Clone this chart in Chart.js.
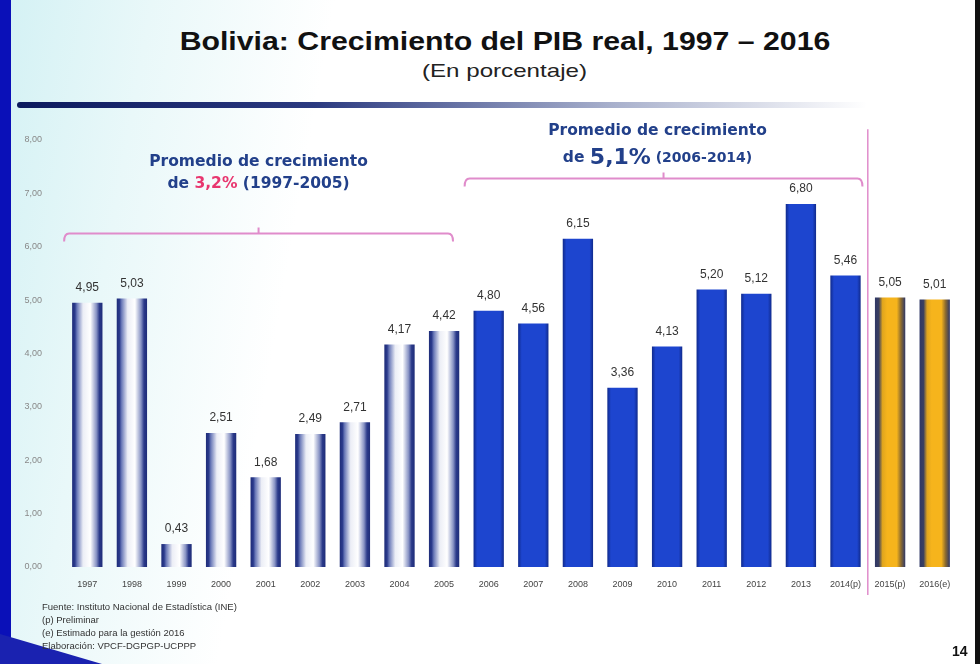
<!DOCTYPE html>
<html>
<head>
<meta charset="utf-8">
<script src="https://cdn.jsdelivr.net/npm/chart.js@4.4.1/dist/chart.umd.min.js"></script>
<style>
  html, body { margin: 0; padding: 0; }
  body {
    width: 980px; height: 664px; position: relative; overflow: hidden;
    background: linear-gradient(100deg, #d3f1f4 0px, #e9f8f9 150px, #ffffff 330px);
    font-family: "Liberation Sans", Arial, sans-serif;
  }
  #edgeL { position: absolute; left: 0; top: 0; width: 11px; height: 664px; background: #0a10b8; }
  #edgeR { position: absolute; right: 0; top: 0; width: 5px; height: 664px; background: #111; }
  #wedge { position: absolute; left: 0; bottom: 0; width: 0; height: 0;
    border-left: 102px solid #1a22b0; border-top: 30px solid transparent; }
  #title { position: absolute; left: 0; width: 1010px; top: 27px; text-align: center;
    font-weight: bold; font-size: 25px; color: #111; transform: scaleX(1.21); transform-origin: 505px 0; }
  #sub { position: absolute; left: 0; width: 1010px; top: 60px; text-align: center;
    font-size: 19px; color: #222; transform: scaleX(1.27); transform-origin: 507px 0; }
  #rule { position: absolute; left: 17px; top: 102px; width: 850px; height: 6px; border-radius: 3px;
    background: linear-gradient(90deg, #0c1a5e 0%, #2b3a80 35%, #a8b0cc 70%, rgba(255,255,255,0) 100%); }
  #notes { position: absolute; left: 42px; top: 600px; font-size: 9.5px; line-height: 13px; color: #333; }
  #page { position: absolute; left: 952px; top: 643px; font-weight: bold; font-size: 14px; color: #111; }
  canvas { position: absolute; left: 0; top: 0; }
</style>
</head>
<body>
<div id="edgeL"></div>
<div id="edgeR"></div>
<div id="wedge"></div>
<div id="title">Bolivia: Crecimiento del PIB real, 1997 – 2016</div>
<div id="sub">(En porcentaje)</div>
<div id="rule"></div>
<canvas id="pibChart" width="980" height="664"></canvas>
<div id="notes">
  Fuente: Instituto Nacional de Estadística (INE)<br>
  (p) Preliminar<br>
  (e) Estimado para la gestión 2016<br>
  Elaboración: VPCF-DGPGP-UCPPP
</div>
<div id="page">14</div>

<script>
var years = ['1997', '1998', '1999', '2000', '2001', '2002', '2003', '2004', '2005', '2006',
             '2007', '2008', '2009', '2010', '2011', '2012', '2013', '2014(p)', '2015(p)', '2016(e)'];
var growth = [4.95, 5.03, 0.43, 2.51, 1.68, 2.49, 2.71, 4.17, 4.42, 4.80,
              4.56, 6.15, 3.36, 4.13, 5.20, 5.12, 6.80, 5.46, 5.05, 5.01];
// which period each bar belongs to: 0 = 1997-2005, 1 = 2006-2014, 2 = 2015-2016
var period = [0, 0, 0, 0, 0, 0, 0, 0, 0, 1, 1, 1, 1, 1, 1, 1, 1, 1, 2, 2];
var yTicks = [0, 1, 2, 3, 4, 5, 6, 7, 8];
var flatColors = ['#8d97c2', '#1d45cf', '#f6b41c'];

function fmt(v) {
	return v.toFixed(2).replace('.', ',');
}

// horizontal gradient inside every bar, set right before drawing
var barShading = {
	id: 'barShading',
	beforeDatasetDraw: function(chart) {
		var ctx = chart.ctx;
		var meta = chart.getDatasetMeta(0);
		meta.data.forEach(function(bar, i) {
			var x0 = bar.x - bar.width / 2, x1 = bar.x + bar.width / 2;
			var g = ctx.createLinearGradient(x0, 0, x1, 0);
			if (period[i] == 0) {
				g.addColorStop(0, '#1e2c78');
				g.addColorStop(0.09, '#2a3a8c');
				g.addColorStop(0.16, '#6a79b8');
				g.addColorStop(0.36, '#eceef6');
				g.addColorStop(0.6, '#ffffff');
				g.addColorStop(0.8, '#8893c4');
				g.addColorStop(0.9, '#2b3a8a');
				g.addColorStop(1, '#1e2c78');
			} else if (period[i] == 1) {
				g.addColorStop(0, '#102a8c');
				g.addColorStop(0.12, '#1d45cf');
				g.addColorStop(0.88, '#1d45cf');
				g.addColorStop(1, '#102a8c');
			} else {
				g.addColorStop(0, '#2f3766');
				g.addColorStop(0.13, '#3a3f60');
				g.addColorStop(0.25, '#e0a51e');
				g.addColorStop(0.4, '#f6b41c');
				g.addColorStop(0.72, '#f6b41c');
				g.addColorStop(0.86, '#8a6a30');
				g.addColorStop(1, '#2f3766');
			}
			bar.options = Object.assign({}, bar.options, {backgroundColor: g});
		});
	}
};

// value labels, period brackets and their captions
var overlay = {
	id: 'overlay',
	afterDatasetsDraw: function(chart) {
		var ctx = chart.ctx;
		var xs = chart.scales.x, ys = chart.scales.y;
		var step = xs.getPixelForValue(1) - xs.getPixelForValue(0);
		var meta = chart.getDatasetMeta(0);

		ctx.save();
		ctx.fillStyle = '#333';
		ctx.font = '12px "Liberation Sans", Arial, sans-serif';
		ctx.textAlign = 'center';
		ctx.textBaseline = 'bottom';
		meta.data.forEach(function(bar, i) {
			ctx.fillText(fmt(growth[i]), bar.x, bar.y - 9);
		});

		ctx.strokeStyle = '#e08ccb';
		ctx.lineWidth = 2;
		function bracket(xa, xb, y) {
			var xm = (xa + xb) / 2;
			ctx.beginPath();
			ctx.moveTo(xa, y + 8);
			ctx.quadraticCurveTo(xa, y, xa + 5, y);
			ctx.lineTo(xb - 5, y);
			ctx.quadraticCurveTo(xb, y, xb, y + 8);
			ctx.moveTo(xm, y);
			ctx.lineTo(xm, y - 6);
			ctx.stroke();
			return xm;
		}
		var leftMid = bracket(xs.getPixelForValue(0) - 0.52 * step, xs.getPixelForValue(8) + 0.2 * step, ys.getPixelForValue(6.25));
		var rightMid = bracket(xs.getPixelForValue(9) - 0.54 * step, xs.getPixelForValue(17) + 0.38 * step, ys.getPixelForValue(7.28));

		// separator between 2014(p) and 2015(p)
		var sx = xs.getPixelForValue(17) + 0.5 * step;
		ctx.lineWidth = 1.5;
		ctx.beginPath();
		ctx.moveTo(sx, ys.getPixelForValue(8.2));
		ctx.lineTo(sx, xs.bottom - 2);
		ctx.stroke();

		// captions
		var navy = '#22408a';
		var capFont = 'bold 15.5px "DejaVu Sans", sans-serif';
		ctx.textBaseline = 'middle';
		ctx.textAlign = 'center';
		ctx.fillStyle = navy;
		ctx.font = capFont;
		ctx.fillText('Promedio de crecimiento', leftMid, ys.getPixelForValue(7.58));
		ctx.fillText('Promedio de crecimiento', rightMid - 6, ys.getPixelForValue(8.16));

		function mixedLine(parts, cx, y) {
			var total = 0;
			parts.forEach(function(p) { ctx.font = p.font; total += ctx.measureText(p.text).width; });
			var x = cx - total / 2;
			ctx.textAlign = 'left';
			parts.forEach(function(p) {
				ctx.font = p.font;
				ctx.fillStyle = p.color;
				ctx.fillText(p.text, x, y);
				x += ctx.measureText(p.text).width;
			});
			ctx.textAlign = 'center';
		}
		mixedLine([
			{text: 'de ', font: capFont, color: navy},
			{text: '3,2%', font: capFont, color: '#e8366f'},
			{text: ' (1997-2005)', font: capFont, color: navy}
		], leftMid, ys.getPixelForValue(7.18));
		mixedLine([
			{text: 'de ', font: capFont, color: navy},
			{text: '5,1%', font: 'bold 22px "DejaVu Sans", sans-serif', color: navy},
			{text: ' (2006-2014)', font: 'bold 14px "DejaVu Sans", sans-serif', color: navy}
		], rightMid - 6, ys.getPixelForValue(7.66));
		ctx.restore();
	}
};

var ctx = document.getElementById('pibChart').getContext('2d');
var chart = new Chart(ctx, {
	type: 'bar',
	data: {
		labels: years,
		datasets: [{
			label: 'Crecimiento del PIB real',
			data: growth,
			// scriptable so every bar gets its own options object
			backgroundColor: function(c) { return flatColors[period[c.dataIndex]]; },
			borderWidth: 0,
			barPercentage: 0.68,
			categoryPercentage: 1.0
		}]
	},
	options: {
		responsive: false,
		animation: false,
		layout: { padding: { left: 0, right: 23, top: 140, bottom: 67 } },
		plugins: {
			legend: { display: false },
			tooltip: { enabled: false }
		},
		scales: {
			x: {
				grid: { display: false, drawTicks: false },
				border: { display: false },
				ticks: {
					color: '#444',
					font: { size: 9, family: '"Liberation Sans", Arial, sans-serif' },
					padding: 12,
					maxRotation: 0,
					autoSkip: false
				},
				afterFit: function(scale) { scale.height = 30; }
			},
			y: {
				min: 0,
				max: 8,
				afterBuildTicks: function(scale) {
					scale.ticks = yTicks.map(function(v) { return {value: v}; });
				},
				grid: { display: false, drawTicks: false },
				border: { display: false },
				ticks: {
					color: '#888',
					font: { size: 9, family: '"Liberation Sans", Arial, sans-serif' },
					padding: 23,
					callback: function(v) { return fmt(v); }
				},
				afterFit: function(scale) { scale.width = 65; }
			}
		}
	},
	plugins: [barShading, overlay]
});
</script>
</body>
</html>
